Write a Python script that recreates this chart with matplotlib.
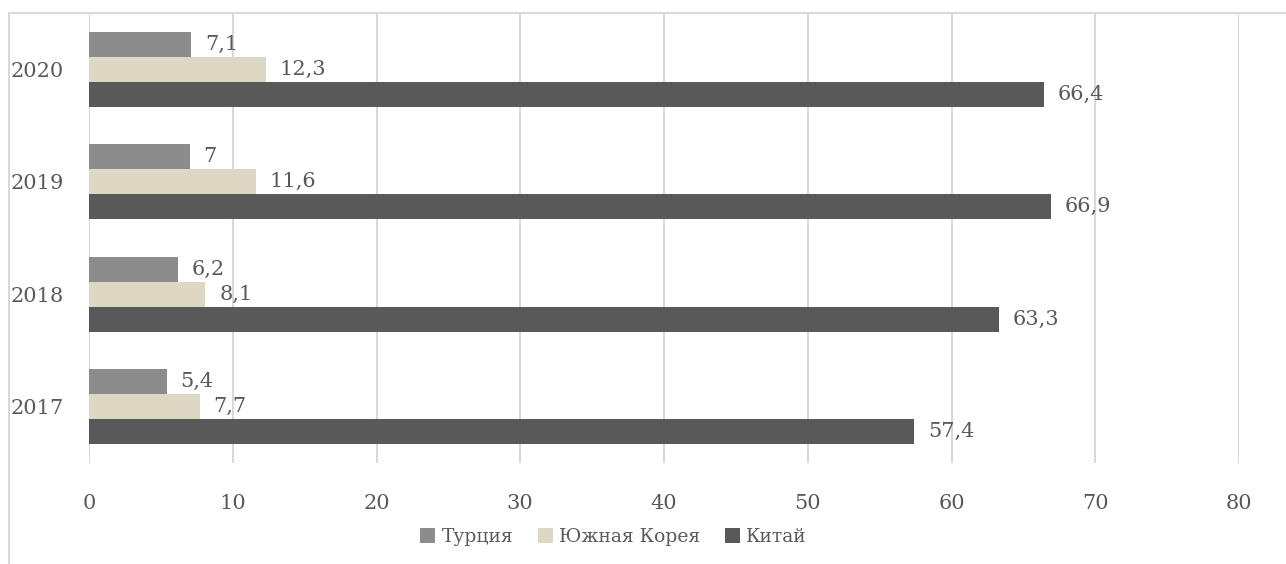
import numpy as np
import matplotlib.pyplot as plt
from matplotlib.patches import Rectangle

years = ["2017", "2018", "2019", "2020"]
series = ["Турция", "Южная Корея", "Китай"]
turkey = [5.4, 6.2, 7.0, 7.1]
korea = [7.7, 8.1, 11.6, 12.3]
china = [57.4, 63.3, 66.9, 66.4]
colors = ["#8c8c8c", "#ddd8c4", "#595959"]
text_color = "#595959"

plt.rcParams['font.family'] = ['DejaVu Serif']

fig = plt.figure(figsize=(12.86, 5.64), dpi=100)
W, H = 1286, 564
ax = fig.add_axes([89 / W, 1 - 463 / H, (1239 - 89) / W, (463 - 13) / H])

# outer chart border (only left and top visible)
fig.patches.append(Rectangle((9 / W, -0.1), 1.2, 1 - 13 / H + 0.1, transform=fig.transFigure,
                             fill=False, edgecolor="#d9d9d9", lw=1.5, zorder=0))

y = np.arange(len(years))
h = 0.222
offsets = [h, 0, -h]
for vals, off, col, name in zip([turkey, korea, china], offsets, colors, series):
    bars = ax.barh(y + off, vals, height=h, color=col, label=name, zorder=3)
    for b, v in zip(bars, vals):
        lab = ("%g" % v).replace(".", ",")
        ax.annotate(lab, (b.get_width(), b.get_y() + b.get_height() / 2),
                    xytext=(10, 0), textcoords="offset points", va="center", ha="left",
                    fontsize=15, color=text_color)

ax.set_xlim(0, 80)
ax.set_ylim(-0.5, 3.5)
ax.set_xticks(range(0, 81, 10))
ax.set_yticks(y)
ax.set_yticklabels(years)
ax.grid(axis="x", color="#d9d9d9", lw=1.5, zorder=0)
ax.tick_params(axis="both", length=0, labelsize=15, labelcolor=text_color)
ax.tick_params(axis="x", pad=22)
ax.tick_params(axis="y", pad=18)
for s in ax.spines.values():
    s.set_visible(False)

fig.legend(loc="center", bbox_to_anchor=(0.477, 1 - 537 / H), ncol=3, frameon=False,
           handlelength=0.8, handleheight=0.8, handletextpad=0.35, columnspacing=1.3,
           prop={"size": 13.5}, labelcolor=text_color)

fig.savefig("out.png", dpi=100)
